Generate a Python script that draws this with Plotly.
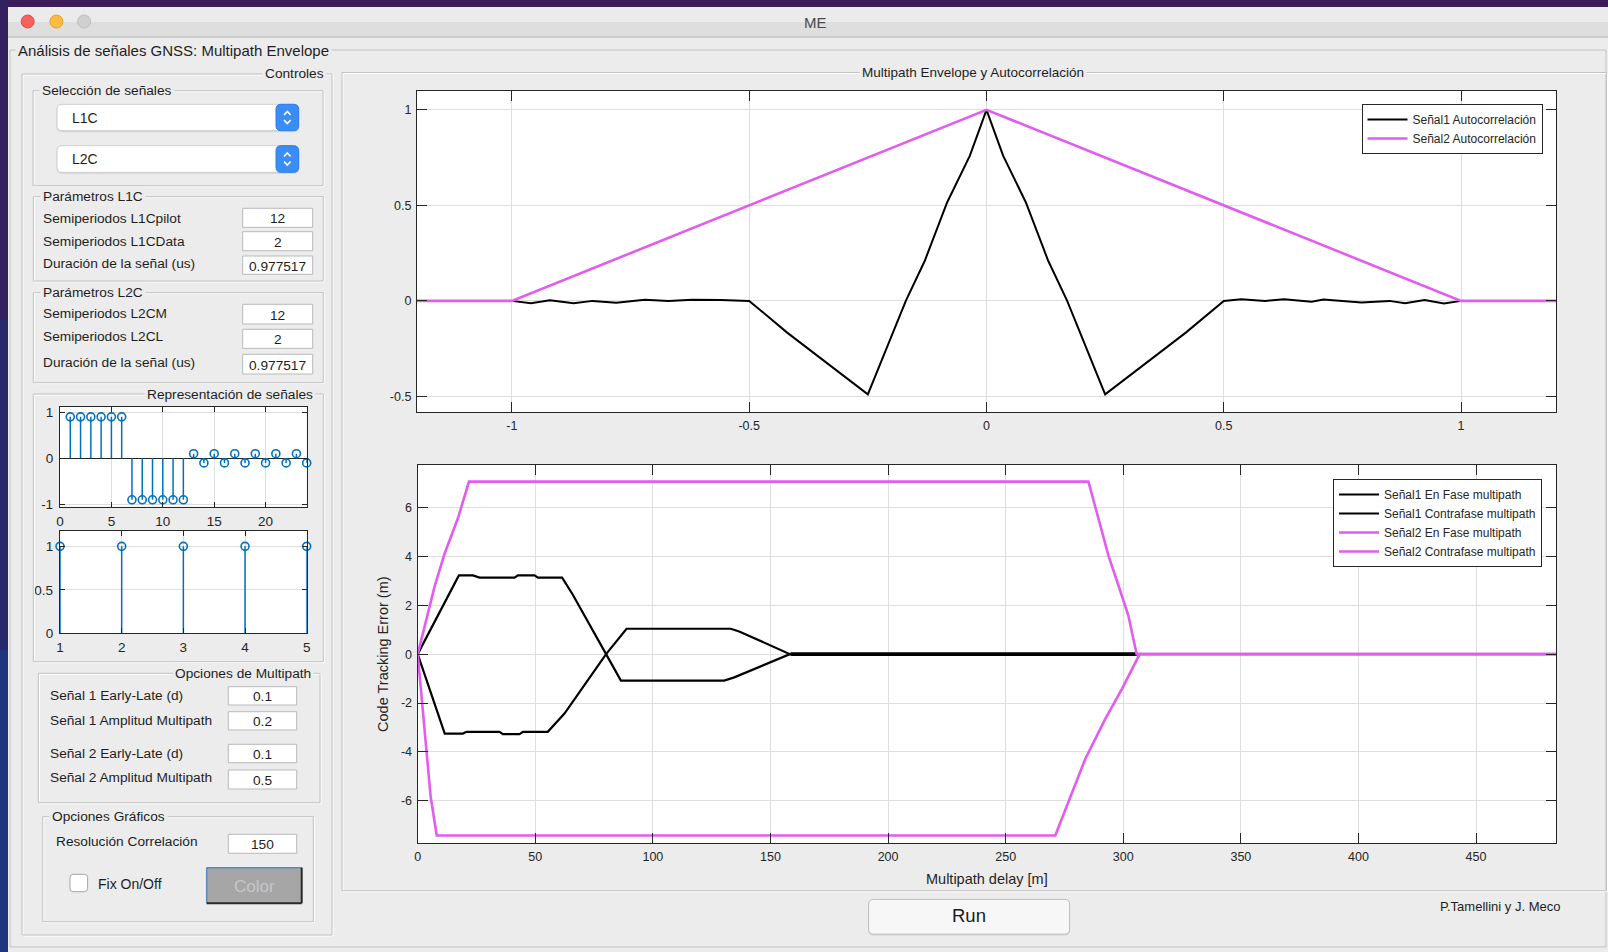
import plotly.graph_objects as go

# ---------------- data ----------------
# Autocorrelation (top plot)
tau_s1 = [-1.2, -1.0, -0.96, -0.92, -0.87, -0.83, -0.78, -0.72, -0.67, -0.62, -0.56, -0.5,
          -0.42, -0.25, -0.17, -0.13, -0.083, -0.035, 0.0, 0.035, 0.083, 0.13, 0.17, 0.25, 0.42,
          0.5, 0.537, 0.587, 0.627, 0.685, 0.71, 0.79, 0.849, 0.882, 0.923, 0.964, 1.0, 1.2]
acf_s1 = [0, 0, -0.012, 0.003, -0.012, 0.0, -0.01, 0.006, 0.0, 0.006, 0.004, 0,
          -0.166, -0.489, 0.0, 0.21, 0.515, 0.76, 1.0, 0.76, 0.515, 0.21, 0.0, -0.489, -0.166,
          0, 0.009, 0.0, 0.009, -0.004, 0.007, -0.009, 0.0, -0.012, 0.004, -0.014, 0, 0]
tau_s2 = [-1.2, -1.0, 0.0, 1.0, 1.2]
acf_s2 = [0, 0, 1, 0, 0]

# Multipath envelope (bottom plot)
delay_s1_fase = [0, 17.5, 23.5, 26.3, 41.2, 42.6, 49.7, 51.1, 61.4, 65.9, 80.1, 86.4, 130.3, 134.6, 159, 306]
err_s1_fase = [0, 3.22, 3.22, 3.13, 3.13, 3.22, 3.22, 3.13, 3.13, 2.44, 0, -1.08, -1.08, -0.95, 0.03, 0.03]
delay_s1_contra = [0, 11.5, 19.2, 20.7, 34.8, 36.2, 43.3, 44.7, 55.3, 62.4, 80.1, 88.8, 133.1, 136.7, 159, 306]
err_s1_contra = [0, -3.25, -3.25, -3.18, -3.18, -3.27, -3.27, -3.18, -3.18, -2.43, 0, 1.04, 1.04, 0.93, -0.03, -0.03]
delay_s2_fase = [0, 7.2, 11.5, 17.1, 21.8, 285.2, 289.5, 293.7, 298, 302.2, 305.7, 484]
err_s2_fase = [0, 2.77, 4.13, 5.56, 7.06, 7.06, 5.53, 4.03, 2.8, 1.57, 0, 0]
delay_s2_contra = [0, 1.6, 3.7, 5.5, 8.1, 271.1, 276.7, 283.8, 292.3, 299.4, 307, 484]
err_s2_contra = [0, -1.6, -3.92, -5.83, -7.42, -7.42, -6.08, -4.3, -2.66, -1.43, 0, 0]

# Signal representation (stem plots)
stem1_n = [1, 2, 3, 4, 5, 6, 7, 8, 9, 10, 11, 12, 13, 14, 15, 16, 17, 18, 19, 20, 21, 22, 23, 24]
stem1_v = [0.9, 0.9, 0.9, 0.9, 0.9, 0.9, -0.9, -0.9, -0.9, -0.9, -0.9, -0.9,
           0.1, -0.1, 0.1, -0.1, 0.1, -0.1, 0.1, -0.1, 0.1, -0.1, 0.1, -0.1]
stem2_n = [1, 2, 3, 4, 5]
stem2_v = [1, 1, 1, 1, 1]

# tick labels
top_xticks = [-1, -0.5, 0, 0.5, 1]
top_xlabels = ["-1", "-0.5", "0", "0.5", "1"]
top_yticks = [-0.5, 0, 0.5, 1]
top_ylabels = ["-0.5", "0", "0.5", "1"]
bot_xticks = [0, 50, 100, 150, 200, 250, 300, 350, 400, 450]
bot_xlabels = ["0", "50", "100", "150", "200", "250", "300", "350", "400", "450"]
bot_yticks = [-6, -4, -2, 0, 2, 4, 6]
bot_ylabels = ["-6", "-4", "-2", "0", "2", "4", "6"]
stem1_xticks = [0, 5, 10, 15, 20]
stem1_xlabels = ["0", "5", "10", "15", "20"]
stem1_yticks = [-1, 0, 1]
stem1_ylabels = ["-1", "0", "1"]
stem2_xticks = [1, 2, 3, 4, 5]
stem2_xlabels = ["1", "2", "3", "4", "5"]
stem2_yticks = [0, 0.5, 1]
stem2_ylabels = ["0", "0.5", "1"]

# ---------------- helpers ----------------
W, H = 1608, 952
FONT = "Liberation Sans, Arial, Helvetica, sans-serif"
WIN = "#ececec"
TXT = "#1e1e1e"
AX = "#262626"
GRID = "#dedede"
MAG = "#e35bf0"
BLUE = "#0072bd"


def X(p):
    return p / W


def Y(p):
    return 1 - p / H


shapes = []
annots = []


def rect(x0, y0, x1, y1, fill=None, line=None, lw=1, layer="above"):
    shapes.append(dict(type="rect", xref="paper", yref="paper",
                       x0=X(x0), x1=X(x1), y0=Y(y1), y1=Y(y0),
                       fillcolor=fill or "rgba(0,0,0,0)",
                       line=dict(color=line or "rgba(0,0,0,0)", width=lw if line else 0),
                       layer=layer))


def rrect(x0, y0, x1, y1, r, fill, line, lw=1, layer="above"):
    f = lambda v: f"{v:.6f}"
    p = (f"M{f(X(x0 + r))},{f(Y(y0))} L{f(X(x1 - r))},{f(Y(y0))} Q{f(X(x1))},{f(Y(y0))} {f(X(x1))},{f(Y(y0 + r))} "
         f"L{f(X(x1))},{f(Y(y1 - r))} Q{f(X(x1))},{f(Y(y1))} {f(X(x1 - r))},{f(Y(y1))} "
         f"L{f(X(x0 + r))},{f(Y(y1))} Q{f(X(x0))},{f(Y(y1))} {f(X(x0))},{f(Y(y1 - r))} "
         f"L{f(X(x0))},{f(Y(y0 + r))} Q{f(X(x0))},{f(Y(y0))} {f(X(x0 + r))},{f(Y(y0))} Z")
    shapes.append(dict(type="path", xref="paper", yref="paper", path=p, fillcolor=fill,
                       line=dict(color=line, width=lw), layer=layer))


def polyline(pts, color, lw=1.5):
    p = "M" + " L".join(f"{X(a):.6f},{Y(b):.6f}" for a, b in pts)
    shapes.append(dict(type="path", xref="paper", yref="paper", path=p,
                       fillcolor="rgba(0,0,0,0)", line=dict(color=color, width=lw)))


def seg(x0, y0, x1, y1, color, lw=1, layer="above"):
    shapes.append(dict(type="line", xref="paper", yref="paper", x0=X(x0), y0=Y(y0),
                       x1=X(x1), y1=Y(y1), line=dict(color=color, width=lw), layer=layer))


def circle(cx, cy, r, fill, line):
    shapes.append(dict(type="circle", xref="paper", yref="paper", x0=X(cx - r), x1=X(cx + r),
                       y0=Y(cy + r), y1=Y(cy - r), fillcolor=fill, line=dict(color=line, width=1)))


def text(x, y, s, size=13.7, color=TXT, anchor="left", bg=None, pad=1):
    if anchor == "left":
        x -= 1
    annots.append(dict(xref="paper", yref="paper", x=X(x), y=Y(y), text=s, showarrow=False,
                       xanchor=anchor, yanchor="middle",
                       font=dict(family=FONT, size=size, color=color),
                       bgcolor=bg, borderpad=pad))


def panel(x0, y0, x1, y1, title, tx, anchor, size=13.7):
    rect(x0 + 1, y0 + 1, x1 + 1, y1 + 1, line="#ffffff")
    rect(x0, y0, x1, y1, line="#c2c2c2")
    text(tx, y0, title, size, anchor=anchor, bg=WIN, pad=2)


def editbox(x0, y0, x1, y1, val, size=13.7):
    rect(x0, y0, x1, y1, fill="#ffffff", line="#b9b9b9")
    text((x0 + x1) / 2, (y0 + y1) / 2 + 1, val, size, anchor="center")


# axes boxes (pixel coords)
TOP_BOX = (417, 90.7, 1556, 411.7)
BOT_BOX = (417.7, 465, 1556, 843.3)
ST1_BOX = (60, 406.7, 306.7, 506.7)
ST2_BOX = (60, 530.7, 306.7, 633.3)

# ---------------- desktop + window chrome ----------------
rect(0, 0, W, 8, fill="#3b1c58", layer="below")
rect(0, 0, 9, 320, fill="#33205e", layer="below")
rect(0, 320, 9, 650, fill="#28286c", layer="below")
rect(0, 650, 9, H, fill="#1f357e", layer="below")
rect(8, 7, W, H, fill=WIN, layer="below")
rect(8, 7, W, 22, fill="#ebebeb", layer="below")
rect(8, 22, W, 37, fill="#dedede", layer="below")
seg(8, 37, W, 37, "#b3b3b3", 1, layer="below")
for b in (TOP_BOX, BOT_BOX, ST1_BOX, ST2_BOX):
    rect(b[0], b[1], b[2], b[3], fill="#ffffff", layer="below")

circle(27.7, 21.5, 6.5, "#fc605c", "#de4a44")
circle(56.4, 21.5, 6.5, "#fdbc40", "#dea236")
circle(84.1, 21.5, 6.5, "#d0d0d0", "#bdbdbd")
text(815, 22.5, "ME", 15, "#4a4a4a", anchor="center")

# outer panel
rect(10, 50, 1606, 947, line="#c2c2c2")
text(16, 50, "Análisis de señales GNSS: Multipath Envelope", 15, anchor="left", bg=WIN, pad=2)

# Controles
panel(22, 74, 332, 935, "Controles", 327, "right")
panel(33, 90.7, 323, 185.7, "Selección de señales", 40, "left")
for (yy0, yy1, lab) in [(104.3, 130.7, "L1C"), (145.7, 172.3, "L2C")]:
    rrect(57, yy0 + 1, 299, yy1 + 1, 5, "#d6d6d6", "#d6d6d6", 1)
    rrect(57, yy0, 298.6, yy1, 5, "#ffffff", "#cfcfcf", 1)
    rrect(276, yy0, 298.6, yy1, 5, "#3a8cf6", "#2f7be6", 1)
    cy = (yy0 + yy1) / 2
    polyline([(284, cy - 2.5), (287.3, cy - 6), (290.6, cy - 2.5)], "#ffffff", 1.6)
    polyline([(284, cy + 2.5), (287.3, cy + 6), (290.6, cy + 2.5)], "#ffffff", 1.6)
    text(70.5, cy + 0.5, lab, 14, anchor="left")

panel(33.3, 196.7, 323.3, 281, "Parámetros L1C", 40.5, "left")
text(42.3, 218.3, "Semiperiodos L1Cpilot")
text(42.3, 241, "Semiperiodos L1CData")
text(42.3, 263.3, "Duración de la señal (us)")
editbox(242.7, 208.3, 312.7, 227.3, "12")
editbox(242.7, 231.7, 312.7, 250.7, "2")
editbox(242.7, 256, 312.7, 274.3, "0.977517")

panel(33.3, 292.7, 323.3, 382.7, "Parámetros L2C", 40.5, "left")
text(42.3, 313.3, "Semiperiodos L2CM")
text(42.3, 336, "Semiperiodos L2CL")
text(42.3, 362.7, "Duración de la señal (us)")
editbox(242.7, 304.3, 312.7, 324, "12")
editbox(242.7, 329.3, 312.7, 348.3, "2")
editbox(242.7, 354.3, 312.7, 374, "0.977517")

panel(33.3, 394, 323.3, 661.7, "Representación de señales", 316, "right")

panel(38.3, 673.3, 320, 802.7, "Opciones de Multipath", 314, "right")
text(48.5, 695, "Señal 1 Early-Late (d)")
text(48.5, 720, "Señal 1 Amplitud Multipath")
text(48.5, 753.3, "Señal 2 Early-Late (d)")
text(48.5, 777.7, "Señal 2 Amplitud Multipath")
editbox(228.3, 686.7, 296.7, 705, "0.1")
editbox(228.3, 711.7, 296.7, 730, "0.2")
editbox(228.3, 744.3, 296.7, 762.7, "0.1")
editbox(228.3, 770, 296.7, 789, "0.5")

panel(42.7, 816.7, 313.3, 921.7, "Opciones Gráficos", 50, "left")
text(54.5, 841.7, "Resolución Correlación")
editbox(228.3, 834.3, 296.7, 853.3, "150")
rrect(70, 874.3, 87.6, 891.7, 3, "#ffffff", "#a5a5a5", 1)
text(96.5, 883.5, "Fix On/Off", 14)
rect(206.7, 867.7, 301.7, 903.3, fill="#a6a6a6")
seg(206.7, 867.7, 301.7, 867.7, "#5a86c8", 1.5)
seg(206.7, 867.7, 206.7, 903.3, "#5a86c8", 1.5)
seg(301.7, 867.7, 301.7, 903.3, "#2a2a2a", 2)
seg(206.7, 903.3, 301.7, 903.3, "#2a2a2a", 2)
text(254.2, 886, "Color", 17, "#c6c6c6", anchor="center")

# Right panel
panel(342, 72.5, 1606.5, 890.7, "Multipath Envelope y Autocorrelación", 973, "center", 13.5)

# Run button + credits
rrect(868.6, 900.5, 1069.6, 935.2, 5, "#d9d9d9", "#d9d9d9", 1)
rrect(868.6, 899.4, 1069.6, 934.2, 5, "#f7f7f7", "#bcbcbc", 1)
text(969, 915.5, "Run", 18.5, "#1a1a1a", anchor="center")
text(1562, 906, "P.Tamellini y J. Meco", 13, "#1e1e1e", anchor="right")

# ---------------- traces ----------------
fig = go.Figure()
fig.add_trace(go.Scatter(x=tau_s1, y=acf_s1, mode="lines", name="Señal1 Autocorrelación",
                         line=dict(color="#000000", width=2), xaxis="x", yaxis="y", legend="legend"))
fig.add_trace(go.Scatter(x=tau_s2, y=acf_s2, mode="lines", name="Señal2 Autocorrelación",
                         line=dict(color=MAG, width=2.6), xaxis="x", yaxis="y", legend="legend"))

fig.add_trace(go.Scatter(x=delay_s1_fase, y=err_s1_fase, mode="lines", name="Señal1 En Fase multipath",
                         line=dict(color="#000000", width=2.2), xaxis="x2", yaxis="y2", legend="legend2"))
fig.add_trace(go.Scatter(x=delay_s1_contra, y=err_s1_contra, mode="lines", name="Señal1 Contrafase multipath",
                         line=dict(color="#000000", width=2.2), xaxis="x2", yaxis="y2", legend="legend2"))
fig.add_trace(go.Scatter(x=delay_s2_fase, y=err_s2_fase, mode="lines", name="Señal2 En Fase multipath",
                         line=dict(color=MAG, width=2.6), xaxis="x2", yaxis="y2", legend="legend2"))
fig.add_trace(go.Scatter(x=delay_s2_contra, y=err_s2_contra, mode="lines", name="Señal2 Contrafase multipath",
                         line=dict(color=MAG, width=2.6), xaxis="x2", yaxis="y2", legend="legend2"))


def stems(n, v):
    xs, ys = [], []
    for a, b in zip(n, v):
        xs += [a, a, None]
        ys += [0, b, None]
    return xs, ys


s1x, s1y = stems(stem1_n, stem1_v)
fig.add_trace(go.Scatter(x=s1x, y=s1y, mode="lines", line=dict(color=BLUE, width=1.5),
                         xaxis="x3", yaxis="y3", showlegend=False, cliponaxis=False))
fig.add_trace(go.Scatter(x=stem1_n, y=stem1_v, mode="markers",
                         marker=dict(symbol="circle-open", size=8, color=BLUE, line=dict(width=1.6)),
                         xaxis="x3", yaxis="y3", showlegend=False, cliponaxis=False))
s2x, s2y = stems(stem2_n, stem2_v)
fig.add_trace(go.Scatter(x=s2x, y=s2y, mode="lines", line=dict(color=BLUE, width=1.5),
                         xaxis="x4", yaxis="y4", showlegend=False, cliponaxis=False))
fig.add_trace(go.Scatter(x=stem2_n, y=stem2_v, mode="markers",
                         marker=dict(symbol="circle-open", size=8, color=BLUE, line=dict(width=1.6)),
                         xaxis="x4", yaxis="y4", showlegend=False, cliponaxis=False))


def ax(domain, rng, tv, tt, anchor, size=12.5, tl=10, zeroline=False, **kw):
    d = dict(domain=domain, range=rng, tickmode="array", tickvals=tv, ticktext=tt, anchor=anchor,
             showline=True, linecolor=AX, linewidth=1.3, mirror="ticks", ticks="inside",
             ticklen=tl, tickwidth=1, tickcolor=AX, showgrid=True, gridcolor=GRID, gridwidth=1,
             zeroline=zeroline, zerolinecolor=AX, zerolinewidth=1, automargin=False,
             tickfont=dict(family=FONT, size=size, color=AX), fixedrange=True)
    d.update(kw)
    return d


def xdom(b):
    return [X(b[0]), X(b[2])]


def ydom(b):
    return [Y(b[3]), Y(b[1])]


layout = dict(
    width=W, height=H, autosize=False,
    margin=dict(l=0, r=0, t=0, b=0, pad=0, autoexpand=False),
    paper_bgcolor="#2a2260", plot_bgcolor="#ffffff",
    font=dict(family=FONT, color=AX),
    shapes=shapes, annotations=annots, hovermode=False,
    xaxis=ax(xdom(TOP_BOX), [-1.2, 1.2], top_xticks, top_xlabels, "y", ticklabelstandoff=2),
    yaxis=ax(ydom(TOP_BOX), [-0.58, 1.1], top_yticks, top_ylabels, "x", ticklabelstandoff=2),
    xaxis2=ax(xdom(BOT_BOX), [0, 484], bot_xticks, bot_xlabels, "y2", ticklabelstandoff=2,
              title=dict(text="Multipath delay [m]", font=dict(family=FONT, size=14.5, color=AX), standoff=10)),
    yaxis2=ax(ydom(BOT_BOX), [-7.74, 7.74], bot_yticks, bot_ylabels, "x2", ticklabelstandoff=2,
              title=dict(text="Code Tracking Error (m)", font=dict(family=FONT, size=14.5, color=AX), standoff=8)),
    xaxis3=ax(xdom(ST1_BOX), [0, 24], stem1_xticks, stem1_xlabels, "y3", size=13.5, tl=5,
              ticklabelstandoff=2),
    yaxis3=ax(ydom(ST1_BOX), [-1.05, 1.12], stem1_yticks, stem1_ylabels, "x3", size=13.5, tl=5,
              zeroline=True, ticklabelstandoff=3),
    xaxis4=ax(xdom(ST2_BOX), [1, 5], stem2_xticks, stem2_xlabels, "y4", size=13.5, tl=5,
              ticklabelstandoff=1),
    yaxis4=ax(ydom(ST2_BOX), [0, 1.18], stem2_yticks, stem2_ylabels, "x4", size=13.5, tl=5,
              ticklabelstandoff=3),
    legend=dict(x=X(1542.5), y=Y(104), xanchor="right", yanchor="top", bgcolor="#ffffff",
                bordercolor=AX, borderwidth=1, font=dict(family=FONT, size=12, color=AX),
                tracegroupgap=0, itemwidth=40),
    legend2=dict(x=X(1542), y=Y(479), xanchor="right", yanchor="top", bgcolor="#ffffff",
                 bordercolor=AX, borderwidth=1, font=dict(family=FONT, size=12, color=AX),
                 tracegroupgap=0, itemwidth=40),
)
fig.update_layout(**layout)

post = ("document.documentElement.style.margin='0';document.documentElement.style.overflow='hidden';"
        "document.documentElement.style.background='#ececec';"
        "document.body.style.margin='0';document.body.style.overflow='hidden';"
        "document.body.style.background='#ececec';")
fig.write_html("out.html", config={"displayModeBar": False}, post_script=post)
